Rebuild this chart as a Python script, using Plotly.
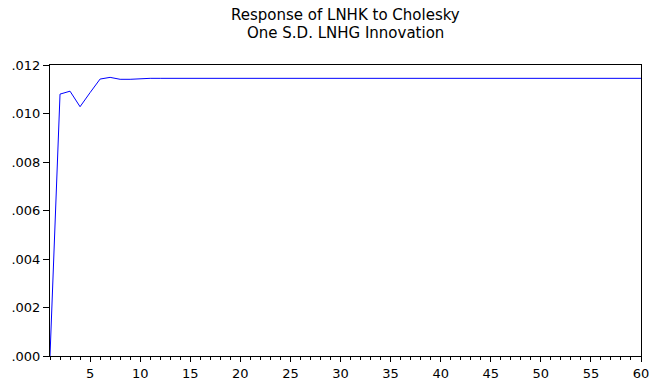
import plotly.graph_objects as go

# Impulse response of LNHK to a Cholesky one S.D. LNHG shock, periods 1..60
periods = list(range(1, 61))
response = [0.0, 0.01080, 0.01092, 0.01028, 0.01086, 0.01142, 0.01149, 0.01141,
            0.01141, 0.01144] + [0.01145] * 50

y_ticks = [0.000, 0.002, 0.004, 0.006, 0.008, 0.010, 0.012]
y_tick_labels = [".000", ".002", ".004", ".006", ".008", ".010", ".012"]
x_ticks = list(range(5, 61, 5))
title_lines = ["Response of LNHK to Cholesky", "One S.D. LNHG Innovation"]

FAMILY = "DejaVu Sans, Liberation Sans, Arial, sans-serif"
font = dict(family=FAMILY, size=13, color="black")
title_font = dict(family=FAMILY, size=15, color="black")

fig = go.Figure()
fig.add_trace(go.Scatter(x=periods, y=response, mode="lines",
                         line=dict(color="#0000FF", width=1)))

fig.update_layout(
    width=649, height=378,
    margin=dict(l=50, r=8, t=65, b=22, autoexpand=False),
    paper_bgcolor="white", plot_bgcolor="white",
    showlegend=False,
    font=font,
)

# two-line title centred over the plot area
for i, line in enumerate(title_lines):
    fig.add_annotation(text=line, xref="paper", yref="paper", x=0.5, y=1,
                       xanchor="center", yanchor="middle", yshift=50 - 18 * i,
                       showarrow=False, font=title_font)

fig.update_xaxes(
    range=[1, 60], tickvals=x_ticks, ticks="outside", ticklen=5, tickwidth=1,
    tickcolor="black", showline=True, linecolor="black", linewidth=1, mirror=True,
    showgrid=False, zeroline=False, automargin=False, ticklabeloverflow="allow",
    minor=dict(ticks="outside", ticklen=3, tick0=0, dtick=1, tickcolor="black", showgrid=False),
    tickfont=font,
)
fig.update_yaxes(
    range=[0, 0.012], tickvals=y_ticks, ticktext=y_tick_labels, ticks="outside",
    ticklen=6, tickwidth=1, tickcolor="black", showline=True, linecolor="black",
    linewidth=1, mirror=True, showgrid=False, zeroline=False, automargin=False,
    tickfont=font,
)

fig.write_html("out.html")
